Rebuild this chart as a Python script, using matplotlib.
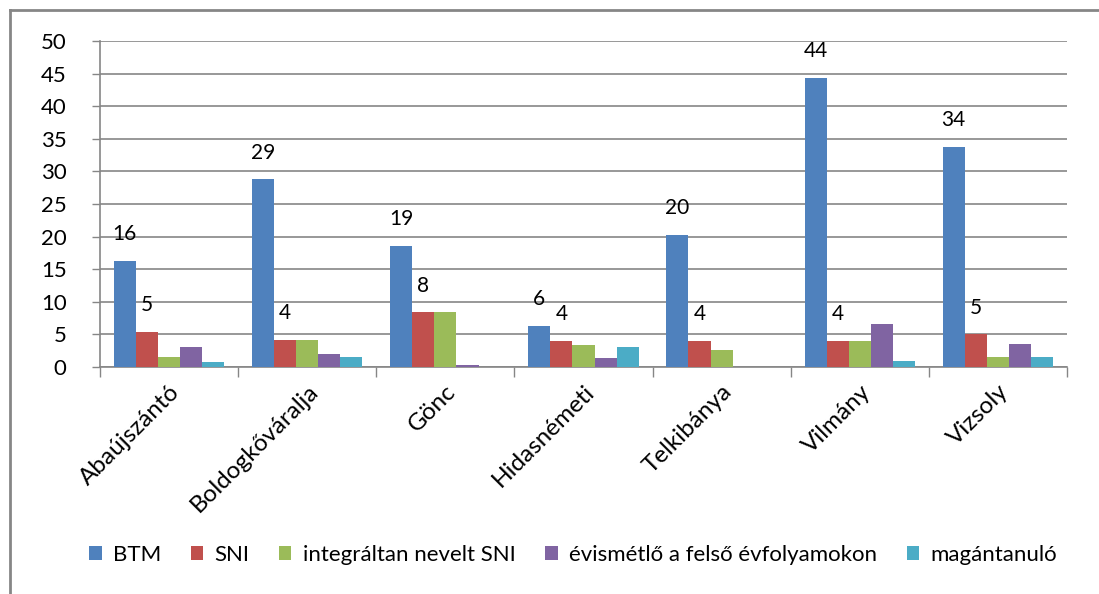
import matplotlib
matplotlib.use("Agg")
import matplotlib.pyplot as plt
import numpy as np
from matplotlib.lines import Line2D

categories = ["Abaújszántó", "Boldogkőváralja", "Gönc", "Hidasnémeti", "Telkibánya", "Vilmány", "Vizsoly"]
series_names = ["BTM", "SNI", "integráltan nevelt SNI", "évismétlő a felső évfolyamokon", "magántanuló"]
btm = [16.3, 28.8, 18.6, 6.3, 20.3, 44.3, 33.8]
sni = [5.4, 4.2, 8.4, 4.0, 4.0, 4.0, 5.0]
integralt = [1.6, 4.2, 8.4, 3.4, 2.6, 4.0, 1.6]
evismetlo = [3.0, 2.0, 0.35, 1.4, 0.0, 6.6, 3.6]
magantanulo = [0.8, 1.6, 0.0, 3.0, 0.0, 0.9, 1.6]
labelled = {"BTM": True, "SNI": True}
yticks = [0, 5, 10, 15, 20, 25, 30, 35, 40, 45, 50]

colors = ["#4F81BD", "#C0504D", "#9BBB59", "#8064A2", "#4BACC6"]
series = [btm, sni, integralt, evismetlo, magantanulo]

plt.rcParams['font.family'] = ['Lato', 'DejaVu Sans']

fig = plt.figure(figsize=(10.99, 5.94), dpi=100)
ax = fig.add_axes([100/1099, 1-367/594, 967/1099, 326/594])

n = len(series)
bw = 0.16
x = np.arange(len(categories))
for i, (name, vals, c) in enumerate(zip(series_names, series, colors)):
    pos = x + (i - (n-1)/2) * bw
    ax.bar(pos, vals, width=bw, color=c, label=name, zorder=3)
    if labelled.get(name):
        for p, v in zip(pos, vals):
            ax.annotate(f"{int(np.floor(v + 0.5)):d}", (p, v), xytext=(0, 12), textcoords="offset points",
                        ha="center", va="bottom", fontsize=15, color="black")

ax.set_xlim(-0.5, len(categories) - 0.5)
ax.set_ylim(0, 50)
ax.set_yticks(yticks)
ax.set_yticklabels([str(t) for t in yticks], fontsize=16)
ax.yaxis.grid(True, color="#868686", linewidth=1.2, zorder=0)
ax.set_axisbelow(True)
ax.tick_params(axis="y", length=6, color="#868686", width=1, pad=18)
ax.set_xticks(np.arange(-0.5, len(categories)))
ax.set_xticklabels([])
ax.tick_params(axis="x", length=7, color="#868686", width=1, direction="out")
ax.set_xticks(x, minor=True)
ax.set_xticklabels(categories, minor=True, rotation=45, ha="right", va="top",
                   rotation_mode="anchor", fontsize=17.5)
ax.tick_params(axis="x", which="minor", length=0, pad=10)
for s in ["top", "right"]:
    ax.spines[s].set_visible(False)
for s in ["left", "bottom"]:
    ax.spines[s].set_color("#868686")
    ax.spines[s].set_linewidth(1.2)

ax.legend(loc="center", bbox_to_anchor=(573/1099, 1-555/594), bbox_transform=fig.transFigure,
          ncol=5, frameon=False, fontsize=16, handlelength=0.55, handleheight=0.55,
          handletextpad=0.5, columnspacing=1.35)

# outer border (left and top)
fig.add_artist(Line2D([10/1099, 10/1099], [0, 1-10/594], transform=fig.transFigure,
                      color="#868686", linewidth=2))
fig.add_artist(Line2D([10/1099, 1], [1-10/594, 1-10/594], transform=fig.transFigure,
                      color="#868686", linewidth=2))

fig.savefig("out.png", dpi=100)
